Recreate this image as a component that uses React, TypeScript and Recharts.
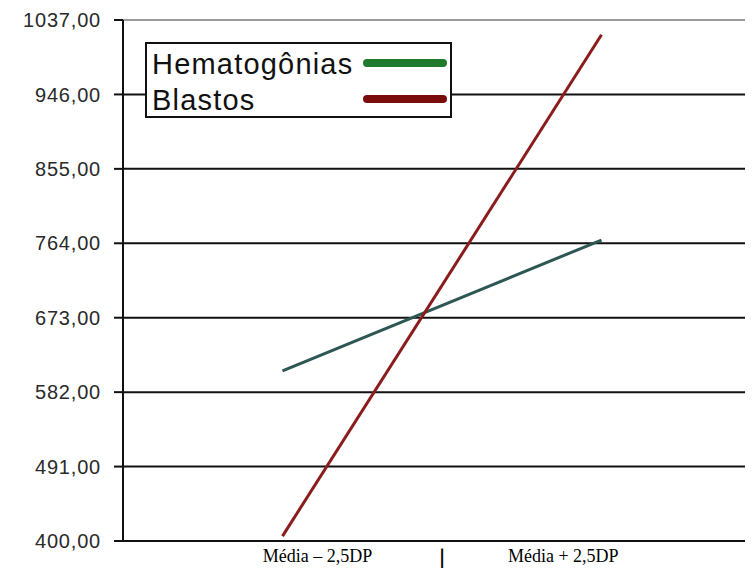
import React from "react";
import { LineChart, Line, XAxis, YAxis, CartesianGrid, Legend, ReferenceLine } from "recharts";

const categories = ["Média – 2,5DP", "Média + 2,5DP"];
const hematogonias = [608, 768];
const blastos = [406, 1019];
const yTicks = [400, 491, 582, 673, 764, 855, 946, 1037];
const xTickLabels = ["Média – 2,5DP", "|", "Média + 2,5DP"];

const seriesNames = { hem: "Hematogônias", bla: "Blastos" };

const data = categories.map((c, i) => ({
  idx: i,
  name: c,
  hem: hematogonias[i],
  bla: blastos[i],
}));

const xLabelPositions = [0.11, 0.5, 0.88];

const XTick = (props: any) => {
  const { x, y, index } = props;
  const isSep = xTickLabels[index] === "|";
  return (
    <text
      x={x}
      y={y + 15}
      textAnchor="middle"
      dominantBaseline="central"
      fontFamily="'Liberation Serif', 'Times New Roman', serif"
      fontSize={isSep ? 21 : 18}
      fill="#000"
      stroke={isSep ? "#000" : "none"}
      strokeWidth={isSep ? 0.8 : 0}
    >
      {xTickLabels[index]}
    </text>
  );
};

const legendColors: Record<string, string> = { hem: "#1f7a2c", bla: "#7a0c0c" };

const LegendBox = () => {
  const rows = [
    { key: "hem", label: seriesNames.hem },
    { key: "bla", label: seriesNames.bla },
  ];
  return (
    <div
      style={{
        width: 303,
        height: 72,
        border: "2px solid #111",
        background: "#fff",
        position: "relative",
        fontFamily: "'Liberation Sans', Arial, sans-serif",
      }}
    >
      {rows.map((r, i) => (
        <div
          key={r.key}
          style={{
            position: "absolute",
            left: 5,
            top: 3 + i * 36,
            height: 34,
            lineHeight: "34px",
            fontSize: 29,
            letterSpacing: 1.2,
            color: "#111",
            whiteSpace: "nowrap",
          }}
        >
          {r.label}
        </div>
      ))}
      {rows.map((r, i) => (
        <svg
          key={r.key + "s"}
          width={90}
          height={12}
          style={{ position: "absolute", left: 214, top: 13 + i * 36 }}
        >
          <line x1={6} y1={6} x2={82} y2={6} stroke={legendColors[r.key]} strokeWidth={8} strokeLinecap="round" />
        </svg>
      ))}
    </div>
  );
};

export default function App() {
  return (
    <div style={{ width: 745, height: 566, overflow: "hidden", background: "#fff" }}>
      <LineChart
        width={760}
        height={560}
        data={data}
        margin={{ top: 12, right: 7, bottom: 0, left: 0 }}
      >
        <CartesianGrid horizontal vertical={false} stroke="#111" strokeWidth={2} />
        <ReferenceLine y={1037} stroke="#9a9a9a" strokeWidth={2} />
        <XAxis
          dataKey="idx"
          type="number"
          domain={[-0.5, 1.5]}
          ticks={xLabelPositions}
          tick={<XTick />}
          tickLine={false}
          tickSize={0}
          tickMargin={0}
          height={27}
          axisLine={{ stroke: "#111", strokeWidth: 2 }}
          interval={0}
        />
        <YAxis
          type="number"
          domain={[400, 1037]}
          ticks={yTicks}
          interval={0}
          width={115}
          tickSize={9}
          tickMargin={13}
          tickFormatter={(v: number) => v.toFixed(2).replace(".", ",")}
          tick={{ fill: "#2a2a2a", fontSize: 20, fontFamily: "'Liberation Sans', Arial, sans-serif", letterSpacing: 0.8 }}
          axisLine={{ stroke: "#111", strokeWidth: 2 }}
          tickLine={{ stroke: "#111", strokeWidth: 2 }}
        />
        <Legend
          layout="vertical"
          align="center"
          verticalAlign="middle"
          wrapperStyle={{ top: 34, left: 137, width: 307, height: 76 }}
          content={<LegendBox />}
        />
        <Line
          type="linear"
          dataKey="hem"
          name={seriesNames.hem}
          stroke="#2d5752"
          strokeWidth={3}
          dot={false}
          isAnimationActive={false}
        />
        <Line
          type="linear"
          dataKey="bla"
          name={seriesNames.bla}
          stroke="#8b1c1c"
          strokeWidth={3}
          dot={false}
          isAnimationActive={false}
        />
      </LineChart>
    </div>
  );
}
